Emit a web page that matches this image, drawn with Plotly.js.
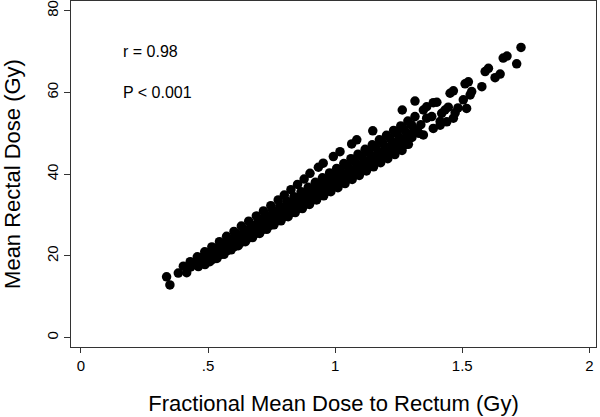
<!DOCTYPE html>
<html>
<head>
<meta charset="utf-8">
<script src="https://cdn.plot.ly/plotly-3.0.1.min.js"></script>
<style>html,body{margin:0;padding:0;background:#fff}#chart{width:600px;height:417px}</style>
</head>
<body>
<div id="chart"></div>
<script>
// Fractional mean dose to rectum (Gy) vs mean rectal dose (Gy) in groups
var fracDose1 = [0.337,0.403,0.430,0.458,0.487,0.515,0.545,0.573,0.602,0.631,0.660,0.690,0.718,0.747,0.776,0.800,0.826,0.852,0.878,0.901,0.934,0.953,0.993,1.019,1.065,1.085,1.148,1.264,1.314];
var meanDose1 = [14.9,17.5,18.6,19.8,21.0,22.2,23.5,24.8,26.0,27.3,28.5,29.8,31.0,32.3,33.7,34.9,36.2,37.5,38.8,40.2,41.7,42.7,44.3,45.5,47.4,48.4,50.6,55.7,57.9];

var fracDose2 = [0.383,0.449,0.475,0.503,0.530,0.558,0.586,0.614,0.642,0.670,0.698,0.726,0.754,0.782,0.810,0.838,0.866,0.894,0.922,0.950,0.978,1.006,1.034,1.062,1.090,1.118,1.146,1.174,1.202,1.230,1.258,1.286,1.314,1.347,1.360,1.386,1.400,1.452,1.465,1.511,1.524,1.590,1.603,1.661,1.676,1.731];
var meanDose2 = [15.8,18.5,19.6,20.7,21.8,23.0,24.1,25.3,26.5,27.6,28.8,29.9,31.1,32.2,33.4,34.5,35.7,36.8,38.0,39.1,40.3,41.4,42.6,43.8,44.9,46.1,47.2,48.4,49.5,50.7,51.8,53.0,54.1,55.7,56.5,57.5,57.6,59.8,60.4,62.1,62.6,65.1,65.9,68.4,68.9,71.0];

var fracDose2b = [0.432,0.461,0.489,0.517,0.544,0.572,0.600,0.628,0.656,0.684,0.712,0.740,0.768,0.796,0.824,0.852,0.880,0.908,0.936,0.964,0.992,1.020,1.048,1.076,1.104,1.132,1.160,1.188,1.216,1.244,1.272,1.300];
var meanDose2b = [17.3,18.5,19.6,20.7,21.8,22.9,24.1,25.2,26.3,27.4,28.6,29.7,30.8,31.9,33.0,34.2,35.3,36.4,37.5,38.7,39.8,40.9,42.0,43.1,44.3,45.4,46.5,47.6,48.8,49.9,51.0,52.1];

var fracDose3 = [0.416,0.470,0.497,0.525,0.553,0.581,0.609,0.637,0.665,0.693,0.721,0.749,0.777,0.805,0.833,0.861,0.889,0.917,0.945,0.973,1.001,1.029,1.057,1.085,1.113,1.141,1.169,1.197,1.225,1.253,1.281,1.309,1.337,1.360,1.380,1.419,1.432,1.445,1.504,1.531,1.537,1.577,1.629,1.649,1.714];
var meanDose3 = [15.9,18.3,19.4,20.5,21.6,22.7,23.8,24.8,25.9,27.0,28.1,29.2,30.3,31.4,32.5,33.6,34.7,35.8,36.9,37.9,39.0,40.1,41.2,42.3,43.4,44.5,45.6,46.7,47.8,48.9,50.0,51.1,52.1,53.7,54.1,54.9,55.7,56.4,58.2,59.4,60.2,61.4,63.6,64.5,67.0];

var fracDose3b = [0.484,0.511,0.539,0.567,0.595,0.623,0.651,0.679,0.707,0.735,0.763,0.791,0.819,0.847,0.875,0.903,0.931,0.959,0.987,1.015,1.043,1.071,1.099,1.127,1.155,1.183,1.211,1.239,1.267,1.295,1.323];
var meanDose3b = [18.5,19.6,20.6,21.7,22.8,23.9,24.9,26.0,27.1,28.2,29.2,30.3,31.4,32.4,33.5,34.6,35.7,36.7,37.8,38.9,39.9,41.0,42.1,43.2,44.2,45.3,46.4,47.5,48.5,49.6,50.7];

var fracDose4 = [0.462,0.490,0.518,0.546,0.574,0.602,0.630,0.658,0.686,0.714,0.742,0.770,0.798,0.826,0.854,0.882,0.910,0.938,0.966,0.994,1.022,1.050,1.078,1.106,1.134,1.162,1.190,1.218,1.246,1.274,1.302,1.330,1.413,1.472,1.483,1.517];
var meanDose4 = [17.4,18.4,19.5,20.5,21.6,22.6,23.7,24.7,25.8,26.8,27.9,29.0,30.0,31.1,32.1,33.2,34.2,35.3,36.3,37.4,38.4,39.5,40.5,41.6,42.6,43.7,44.7,45.8,46.8,47.9,49.0,50.0,52.9,55.0,56.2,56.1];

var fracDose4b = [0.520,0.548,0.576,0.604,0.632,0.660,0.688,0.716,0.744,0.772,0.800,0.828,0.856,0.884,0.912,0.940,0.968,0.996,1.024,1.052,1.080,1.108,1.136,1.164,1.192,1.220,1.248,1.276];
var meanDose4b = [19.2,20.3,21.3,22.3,23.4,24.4,25.5,26.5,27.5,28.6,29.6,30.6,31.7,32.7,33.7,34.8,35.8,36.9,37.9,38.9,40.0,41.0,42.0,43.1,44.1,45.1,46.2,47.2];

var fracDose5 = [0.350,0.488,0.507,0.535,0.563,0.591,0.619,0.647,0.675,0.703,0.731,0.759,0.787,0.815,0.843,0.871,0.899,0.927,0.955,0.983,1.011,1.039,1.067,1.095,1.123,1.151,1.179,1.207,1.235,1.263,1.288,1.347,1.386,1.413,1.439,1.465];
var meanDose5 = [12.9,17.9,18.6,19.4,20.4,21.5,22.5,23.5,24.5,25.5,26.5,27.6,28.6,29.6,30.6,31.6,32.6,33.7,34.7,35.7,36.7,37.7,38.7,39.7,40.8,41.8,42.8,43.8,44.8,45.8,47.3,49.6,51.2,52.0,52.8,53.7];

var xTickVals = [0, 0.5, 1, 1.5, 2];
var xTickText = ['0', '.5', '1', '1.5', '2'];
var yTickVals = [0, 20, 40, 60, 80];
var yTickText = ['0', '20', '40', '60', '80'];

var statLabels = ['r = 0.98', 'P < 0.001'];
var statY = [70, 60];

var xs = [].concat(fracDose1, fracDose2, fracDose2b, fracDose3, fracDose3b, fracDose4, fracDose4b, fracDose5);
var ys = [].concat(meanDose1, meanDose2, meanDose2b, meanDose3, meanDose3b, meanDose4, meanDose4b, meanDose5);

var trace = {
  x: xs, y: ys, type: 'scatter', mode: 'markers',
  marker: {size: 9.5, color: '#000000', line: {width: 0}},
  hoverinfo: 'x+y', showlegend: false
};

var fontFam = 'Arial, "Liberation Sans", Helvetica, sans-serif';
var annotations = statLabels.map(function (t, i) {
  return {x: 0.157, y: statY[i], xref: 'x', yref: 'y', text: t, showarrow: false,
          xanchor: 'left', yanchor: 'middle', font: {family: fontFam, size: 16, color: '#000'}};
});

var layout = {
  width: 600, height: 417,
  margin: {l: 71, r: 4, t: 1, b: 70, pad: 0},
  paper_bgcolor: '#ffffff', plot_bgcolor: '#ffffff',
  font: {family: fontFam, color: '#000'},
  showlegend: false,
  xaxis: {
    range: [-0.039, 2.026], tickvals: xTickVals, ticktext: xTickText,
    ticks: 'outside', ticklen: 5, tickwidth: 1, tickcolor: '#333',
    showline: true, linecolor: '#333', linewidth: 1, mirror: true,
    showgrid: false, zeroline: false,
    tickfont: {family: fontFam, size: 15, color: '#000'},
    title: {text: 'Fractional Mean Dose to Rectum (Gy)', font: {family: fontFam, size: 22, color: '#000'}, standoff: 22},
    automargin: false
  },
  yaxis: {
    range: [-2.28, 82.37], tickvals: yTickVals, ticktext: yTickText, tickangle: -90,
    ticks: 'outside', ticklen: 6, tickwidth: 1, tickcolor: '#333',
    showline: true, linecolor: '#333', linewidth: 1, mirror: true,
    showgrid: false, zeroline: false,
    tickfont: {family: fontFam, size: 15, color: '#000'},
    title: {text: 'Mean Rectal Dose (Gy)', font: {family: fontFam, size: 22, color: '#000'}, standoff: 20},
    automargin: false
  },
  annotations: annotations
};

Plotly.newPlot('chart', [trace], layout, {displayModeBar: false, staticPlot: true});
</script>
</body>
</html>
